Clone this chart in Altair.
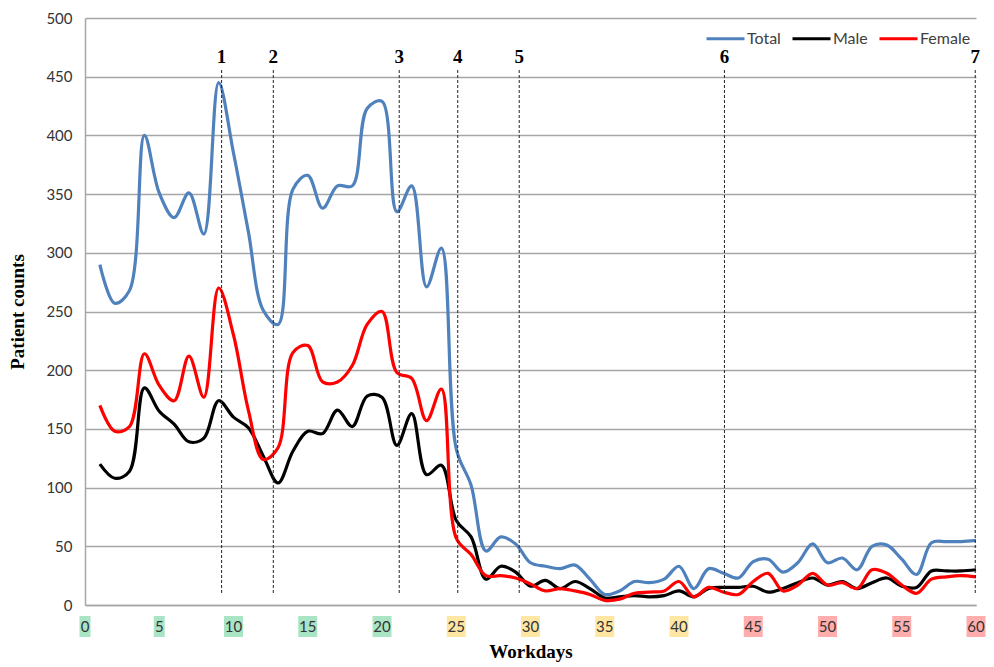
import altair as alt
import pandas as pd

# ---------------- data ----------------
days = list(range(1, 61))
total = [290, 257, 268, 400, 351, 330, 351, 316, 445, 385,
         318, 251, 239, 354, 366, 338, 357, 357, 423, 429,
         335, 357, 271, 304, 133, 102, 46, 58, 52, 36,
         33, 31, 34, 22, 9, 12, 20, 19, 22, 33,
         14, 31, 27, 23, 37, 39, 28, 36, 52, 36,
         40, 30, 50, 51, 39, 26, 53, 54, 54, 55]
male = [120, 108, 114, 185, 165, 154, 139, 142, 174, 160,
        151, 127, 104, 131, 148, 146, 166, 152, 178, 177,
        136, 163, 111, 119, 72, 58, 22, 33, 28, 16,
        21, 14, 20, 14, 6, 7, 8, 7, 8, 12,
        7, 14, 15, 15, 16, 11, 14, 19, 23, 17,
        20, 14, 19, 23, 16, 15, 29, 29, 29, 30]
female = [170, 148, 152, 214, 187, 174, 212, 177, 270, 230,
          166, 124, 134, 215, 221, 190, 190, 204, 239, 250,
          198, 193, 157, 184, 57, 43, 25, 25, 23, 18,
          12, 14, 12, 9, 4, 5, 10, 11, 12, 20,
          7, 15, 11, 9, 20, 27, 12, 17, 27, 17,
          19, 14, 30, 27, 17, 10, 22, 24, 25, 24]

series_names = ["Total", "Male", "Female"]
series_colors = ["#4f81bd", "#000000", "#ff0000"]

event_days = [9.2, 12.68, 21.16, 25.1, 29.24, 43.06, 59.95]
event_labels = ["1", "2", "3", "4", "5", "6", "7"]

x_ticks = [0, 5, 10, 15, 20, 25, 30, 35, 40, 45, 50, 55, 60]
x_tick_phase = ["early"] * 5 + ["mid"] * 4 + ["late"] * 4
phase_names = ["early", "mid", "late"]
phase_colors = ["#a9e5c5", "#ffe6a3", "#ffadad"]

y_ticks = [0, 50, 100, 150, 200, 250, 300, 350, 400, 450, 500]

# ---------------- tables ----------------
long = pd.DataFrame({
    "day": days * 3,
    "count": total + male + female,
    "series": ["Total"] * len(days) + ["Male"] * len(days) + ["Female"] * len(days),
})
events = pd.DataFrame({"day": event_days, "label": event_labels})
ticks = pd.DataFrame({"tick": x_ticks, "phase": x_tick_phase,
                      "label": [str(t) for t in x_ticks]})

W, H = 891, 587
x_scale = alt.Scale(domain=[0, 60], nice=False, zero=False)
y_scale = alt.Scale(domain=[0, 500], nice=False)
phase_scale = alt.Scale(domain=phase_names, range=phase_colors)

lines = alt.Chart(long).mark_line(strokeWidth=3.2, interpolate="catmull-rom").encode(
    x=alt.X("day:Q", scale=x_scale,
            axis=alt.Axis(title="Workdays", labels=False, ticks=False, grid=False,
                          domainColor="#a6a6a6", domainWidth=1.5,
                          titleFont="Liberation Serif", titleFontSize=19,
                          titleFontWeight="bold", titleColor="#000000",
                          titlePadding=37)),
    y=alt.Y("count:Q", scale=y_scale,
            axis=alt.Axis(values=y_ticks, title="Patient counts", ticks=False,
                          labelFont="Lato", labelFontSize=15, labelColor="#333333",
                          labelPadding=13, grid=True, gridColor="#a6a6a6",
                          gridWidth=1.3, domainColor="#a6a6a6", domainWidth=1.5,
                          titleFont="Liberation Serif", titleFontSize=19,
                          titleFontWeight="bold", titleColor="#000000",
                          titlePadding=18)),
    color=alt.Color("series:N",
                    scale=alt.Scale(domain=series_names, range=series_colors),
                    legend=alt.Legend(title=None, orient="none", direction="horizontal",
                                      legendX=620, legendY=0,
                                      symbolType="stroke", symbolSize=1444,
                                      symbolStrokeWidth=3, labelFont="Lato",
                                      labelFontSize=16, labelColor="#404040",
                                      labelOffset=1, columnPadding=5)),
)

bg_one = alt.Chart(ticks).transform_filter("datum.tick < 10").mark_rule(
    strokeWidth=11).encode(
    x=alt.X("tick:Q", scale=x_scale),
    y=alt.value(H + 11), y2=alt.value(H + 32),
    color=alt.Color("phase:N", scale=phase_scale, legend=None),
)
bg_two = alt.Chart(ticks).transform_filter("datum.tick >= 10").mark_rule(
    strokeWidth=19).encode(
    x=alt.X("tick:Q", scale=x_scale),
    y=alt.value(H + 11), y2=alt.value(H + 32),
    color=alt.Color("phase:N", scale=phase_scale, legend=None),
)
tick_text = alt.Chart(ticks).mark_text(
    font="Lato", fontSize=15, color="#333333", baseline="middle", align="center"
).encode(
    x=alt.X("tick:Q", scale=x_scale),
    y=alt.value(H + 21.5),
    text="label:N",
)

event_rules = alt.Chart(events).mark_rule(
    strokeDash=[3, 2], strokeWidth=1, color="#222222"
).encode(
    x=alt.X("day:Q", scale=x_scale),
    y=alt.value(52), y2=alt.value(575),
)
event_text = alt.Chart(events).mark_text(
    font="Liberation Serif", fontSize=19, fontWeight="bold", color="#000000",
    baseline="middle", align="center"
).encode(
    x=alt.X("day:Q", scale=x_scale),
    y=alt.value(39),
    text="label:N",
)

chart = alt.layer(
    lines, bg_one, bg_two, tick_text, event_rules, event_text
).resolve_scale(color="independent").properties(
    width=W, height=H,
    autosize=alt.AutoSizeParams(type="none"),
    padding={"left": 77, "top": 10, "right": 10, "bottom": 60},
).configure_view(stroke=None)

chart.save("out.html", embed_options={"renderer": "svg", "actions": False})
